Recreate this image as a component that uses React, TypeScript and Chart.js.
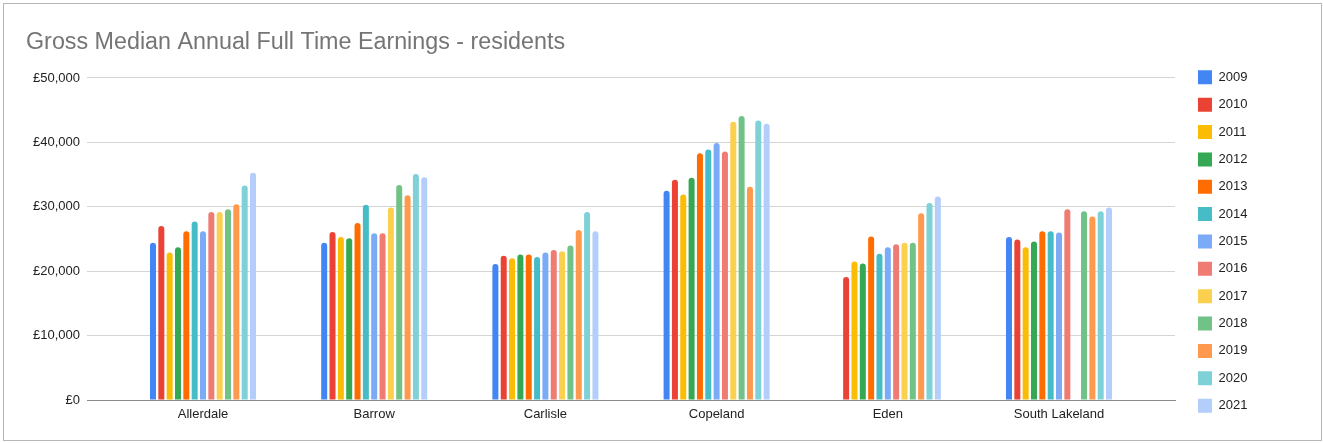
import React, { useEffect, useRef } from 'react';
import { Chart, registerables } from 'chart.js';

Chart.register(...registerables);

const chartTitle = 'Gross Median Annual Full Time Earnings - residents';
const categories = ['Allerdale', 'Barrow', 'Carlisle', 'Copeland', 'Eden', 'South Lakeland'];
const years = ['2009', '2010', '2011', '2012', '2013', '2014', '2015', '2016', '2017', '2018', '2019', '2020', '2021'];

const values2009 = [24400, 24400, 21100, 32500, null, 25300];
const values2010 = [27000, 26100, 22400, 34200, 19100, 24900];
const values2011 = [22900, 25300, 22000, 31900, 21500, 23700];
const values2012 = [23700, 25100, 22600, 34500, 21200, 24600];
const values2013 = [26200, 27500, 22600, 38300, 25400, 26200];
const values2014 = [27700, 30300, 22200, 38900, 22700, 26200];
const values2015 = [26200, 25900, 22900, 39900, 23700, 26000];
const values2016 = [29200, 25900, 23300, 38600, 24200, 29600];
const values2017 = [29200, 29900, 23100, 43200, 24400, null];
const values2018 = [29600, 33400, 24000, 44100, 24400, 29300];
const values2019 = [30400, 31800, 26400, 33100, 29000, 28500];
const values2020 = [33300, 35100, 29200, 43400, 30600, 29300];
const values2021 = [35300, 34600, 26200, 42900, 31600, 29900];

const seriesValues = [
  values2009, values2010, values2011, values2012, values2013, values2014, values2015,
  values2016, values2017, values2018, values2019, values2020, values2021,
];

const seriesColors = [
  '#4285F4', '#EA4335', '#FBBC04', '#34A853', '#FF6D01', '#46BDC6', '#7BAAF7',
  '#F07B72', '#FCD04F', '#71C287', '#FF994D', '#7ED1D7', '#B3CEFB',
];

const yTickValues = [0, 10000, 20000, 30000, 40000, 50000];

const FONT = "Arial, 'Liberation Sans', sans-serif";
const CATEGORY_PAD = 0.1776;

export default function App() {
  const canvasRef = useRef<HTMLCanvasElement>(null);

  useEffect(() => {
    const chart = new Chart(canvasRef.current as HTMLCanvasElement, {
      type: 'bar',
      data: {
        labels: categories,
        datasets: years.map((year, i) => ({
          label: year,
          data: seriesValues[i],
          backgroundColor: seriesColors[i],
          borderWidth: 0,
          borderRadius: 3,
          categoryPercentage: 0.633,
          barPercentage: 0.72,
        })),
      },
      options: {
        responsive: true,
        maintainAspectRatio: false,
        animation: false,
        layout: { padding: { left: 26, right: 65.6, top: 0, bottom: 17 } },
        plugins: {
          title: {
            display: true,
            text: chartTitle,
            align: 'start',
            color: '#757575',
            font: { family: FONT, size: 23.3, weight: 'normal' },
            padding: { top: 29, bottom: 21 },
          },
          legend: {
            position: 'right',
            align: 'end',
            labels: {
              boxWidth: 14,
              boxHeight: 14,
              padding: 13.36,
              color: '#222222',
              font: { family: FONT, size: 13 },
            },
          },
          tooltip: { enabled: false },
        },
        scales: {
          x: {
            offset: true,
            grid: { display: false, drawTicks: false },
            border: { display: true, color: '#8a8a8a', width: 1 },
            ticks: { color: '#222222', font: { family: FONT, size: 13 }, padding: 7 },
            afterFit: (s: any) => { s.height = 26; },
            afterBuildTicks: (s: any) => {
              s._startValue -= CATEGORY_PAD;
              s._valueRange += 2 * CATEGORY_PAD;
            },
          },
          y: {
            min: 0,
            max: 50000,
            afterBuildTicks: (s: any) => { s.ticks = yTickValues.map((v) => ({ value: v })); },
            grid: {
              drawTicks: false,
              color: (ctx: any) => (ctx.tick && ctx.tick.value === 0 ? '#8a8a8a' : '#d4d4d4'),
            },
            border: { display: false },
            ticks: {
              color: '#222222',
              font: { family: FONT, size: 13 },
              padding: 7,
              callback: (v: any) => '£' + Number(v).toLocaleString('en-GB'),
            },
            afterFit: (s: any) => { s.width = 61; },
          },
          y2: {
            position: 'right',
            display: true,
            grid: { display: false, drawTicks: false },
            border: { display: false },
            ticks: { display: false },
            afterFit: (s: any) => { s.width = 9.6; },
          },
        },
      },
    } as any);
    return () => chart.destroy();
  }, []);

  return (
    <div style={{ position: 'absolute', left: 0, top: 0, width: 1323, height: 443, background: '#ffffff' }}>
      <canvas ref={canvasRef} />
      <div
        style={{
          position: 'absolute',
          left: 3,
          top: 3,
          width: 1319,
          height: 438,
          boxSizing: 'border-box',
          border: '1px solid #b7b7b7',
          pointerEvents: 'none',
        }}
      />
    </div>
  );
}
